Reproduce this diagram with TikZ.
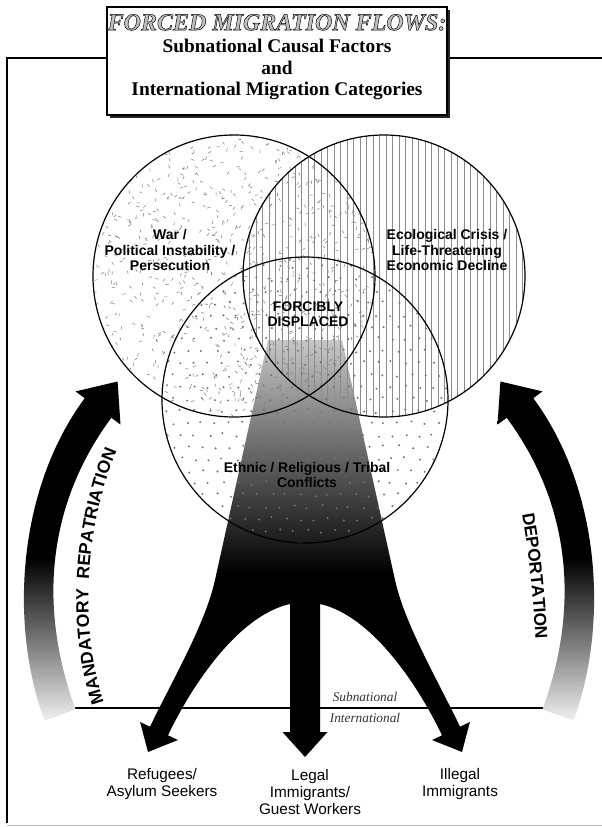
\documentclass[tikz,border=0pt]{standalone}
\usepackage{fontspec}
\setmainfont{Liberation Serif}
\setsansfont{Liberation Sans}
\usetikzlibrary{decorations.text,shadows}

\pgfdeclareverticalshading{fanshade}{100bp}{color(0bp)=(black); color(47bp)=(black); color(75bp)=(black!22); color(100bp)=(black!22)}
\pgfdeclareverticalshading{returnshade}{100bp}{color(0bp)=(black!6); color(25bp)=(black!6); color(36bp)=(black!50); color(49bp)=(black); color(100bp)=(black)}

\begin{document}
\begin{tikzpicture}[
		x=0.75pt, y=-0.75pt,
		ring/.style={draw=black, line width=0.9pt},
		titlebox/.style={rectangle, draw=black, fill=white, line width=0.8pt, minimum width=255pt, minimum height=81pt, drop shadow={shadow xshift=2.5pt, shadow yshift=-2.5pt, fill=black!85, opacity=1}},
		titletext/.style={align=center, font=\bfseries\fontsize{14.5}{16}\selectfont},
		cause/.style={align=center, font=\sffamily\bfseries\fontsize{10.5}{11.3}\selectfont},
		outcome/.style={align=center, font=\sffamily\fontsize{11.5}{12.5}\selectfont},
		sidetext/.style={font=\itshape\fontsize{10}{11}\selectfont, text=black!80}
		]
		\useasboundingbox (0,0) rectangle (602,827);
		
		% displacement fan and the three outflows
		\shade[shading=fanshade] (268,340) -- (342,340) -- (395,580)
			.. controls (405,625) and (438.5,681.7) .. (460,726.7)
			-- (469.9,722) -- (462,752) -- (432.1,740) -- (442,735.3)
			.. controls (416.2,681.3) and (370,615) .. (320,604)
			-- (320,732) -- (327.5,732) -- (305,757) -- (282.5,732) -- (290,732) -- (290,604)
			.. controls (240,615) and (193.8,681.3) .. (168,735.3)
			-- (177.9,740) -- (148,752) -- (140.1,722) -- (150,726.7)
			.. controls (171.5,681.7) and (205,625) .. (215,580) -- cycle;
		
		% war circle: scattered strokes
		\begin{scope}
			\clip (234,276) circle[radius=141];
			\pgfmathsetseed{42}
			\foreach \i in {1,...,950}{
				\pgfmathsetmacro{\px}{234+141*rand}
				\pgfmathsetmacro{\py}{276+141*rand}
				\pgfmathsetmacro{\pa}{180*rand}
				\draw[black!50, line width=0.4pt] (\px,\py) -- ++(\pa:3.2);
			}
		\end{scope}
		% ecological circle: vertical rules
		\begin{scope}
			\clip (384,276) circle[radius=141];
			\foreach \vx in {243,249.5,...,528}
				\draw[black!45, line width=0.3pt] (\vx,130) -- (\vx,420);
		\end{scope}
		% ethnic circle: dots
		\begin{scope}
			\clip (305,400) circle[radius=143];
			\foreach \row in {0,...,24}{
				\foreach \col in {0,...,21}{
					\pgfmathsetmacro{\dx}{160+14*\col+7*mod(\row,2)+2*rand}
					\pgfmathsetmacro{\dy}{255+12*\row+2*rand}
					\fill[black!55] (\dx,\dy) circle[radius=1.1];
				}
			}
		\end{scope}
		
		\draw[ring] (234,276) circle[radius=141];
		\draw[ring] (384,276) circle[radius=141];
		\draw[ring] (305,400) circle[radius=143];
		
		% frame and title
		\coordinate (frametop) at (7,58);
		\draw[line width=0.9pt] (7,823) -- (frametop) -- (300,58);
		\draw[line width=0.9pt] (300,58) -- (602,58);
		\draw[black!25, line width=0.6pt] (7,825) -- (602,825);
		\node[titlebox] (title) at (277,61) {};
		\node[titletext] (titletext) at (277,57) {{\itshape\fontsize{18}{20}\selectfont\color{black!25}\special{pdf:literal direct 2 Tr 0.35 w 0 G}FORCED MIGRATION FLOWS:\special{pdf:literal direct 0 Tr}}\\[1pt]
			Subnational Causal Factors\\ and\\ International Migration Categories};
		
		% subnational / international divide
		\draw[line width=1.1pt] (72,708) -- (548,708);
		\node[sidetext] (subnat) at (365,697) {Subnational};
		\node[sidetext] (internat) at (365,718) {International};
		
		% return flows
		\shade[shading=returnshade] (44.5,720.7) .. controls (9.5,625.7) and (16.7,490.2) .. (84.7,398.2)
			-- (75.5,391.4) -- (117.6,381.5) -- (120.5,424.6) -- (111.3,417.8)
			.. controls (43.3,509.8) and (40.5,614.3) .. (75.5,709.3) -- cycle;
		\shade[shading=returnshade] (573.5,720.7) .. controls (608.5,625.7) and (601.3,490.2) .. (533.3,398.2)
			-- (542.5,391.4) -- (500.4,381.5) -- (497.5,424.6) -- (506.7,417.8)
			.. controls (574.7,509.8) and (577.5,614.3) .. (542.5,709.3) -- cycle;
		\path[decorate, decoration={text along path, text align=left,
			text={|\sffamily\bfseries\fontsize{13.2}{14}\selectfont|MANDATORY{\ \ }REPATRIATION}}]
			(104,702) .. controls (78,628) and (84,515) .. (125,433);
		\path[decorate, decoration={text along path, text align=left,
			text={|\sffamily\bfseries\fontsize{13}{14}\selectfont|DEPORTATION}}]
			(522,514) .. controls (530,558) and (534,604) .. (536,652);
		
		% causes
		\node[cause] (war) at (170,250) {War /\\ Political Instability /\\ Persecution};
		\node[cause] (eco) at (447,250) {Ecological Crisis /\\ Life-Threatening\\ Economic Decline};
		\node[cause] (forcibly) at (308,314) {FORCIBLY\\ DISPLACED};
		\node[cause] (ethnic) at (307,475) {Ethnic / Religious / Tribal\\ Conflicts};
		
		% categories
		\node[outcome] (refugees) at (162,784) {Refugees/\\ Asylum Seekers};
		\node[outcome] (legal) at (310,792) {Legal\\ Immigrants/\\ Guest Workers};
		\node[outcome] (illegal) at (460,784) {Illegal\\ Immigrants};
	\end{tikzpicture}
\end{document}
